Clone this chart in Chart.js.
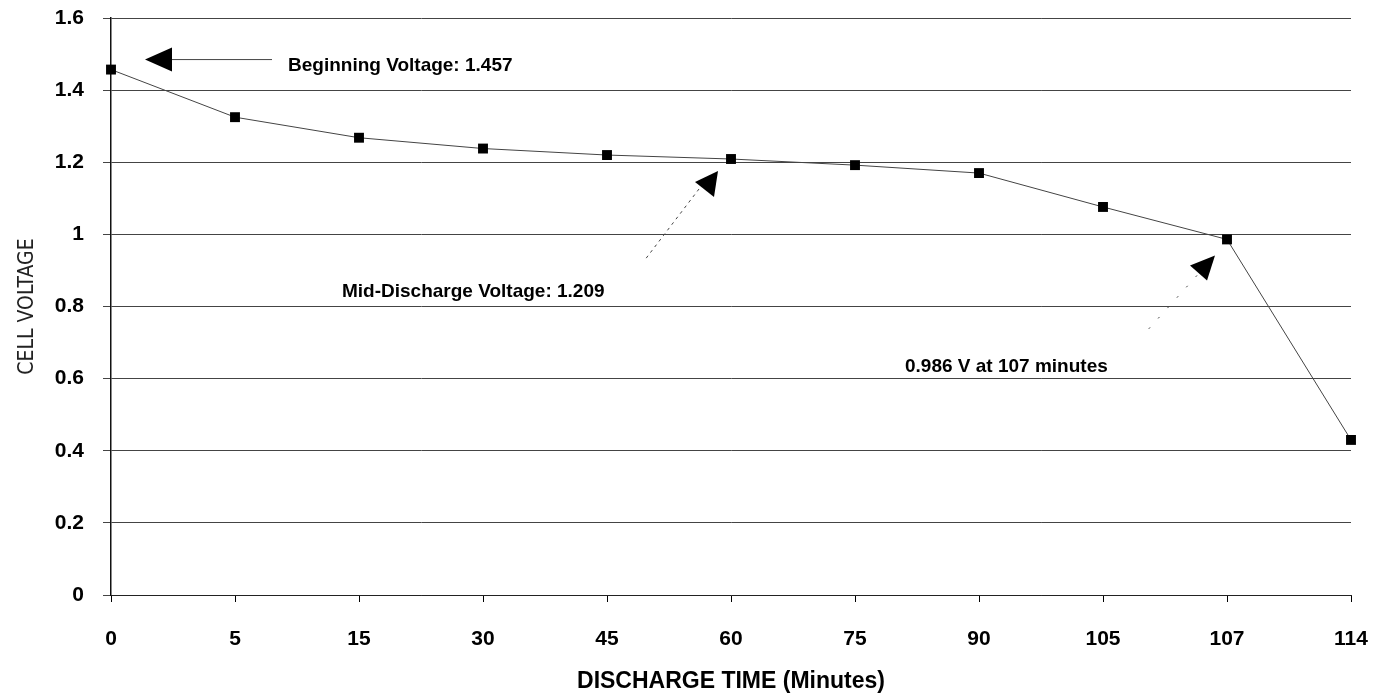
<!DOCTYPE html>
<html>
<head>
<meta charset="utf-8">
<script src="https://cdn.jsdelivr.net/npm/chart.js@4"></script>
<style>
  html, body { margin: 0; padding: 0; background: #fff; }
  #wrap { width: 1383px; height: 698px; }
</style>
</head>
<body>
<div id="wrap"><canvas id="chart"></canvas></div>
<script>
const minutes = ['0', '5', '15', '30', '45', '60', '75', '90', '105', '107', '114'];
const cellVoltage = [1.457, 1.325, 1.268, 1.238, 1.220, 1.209, 1.192, 1.170, 1.076, 0.986, 0.430];
const voltageTicks = [0, 0.2, 0.4, 0.6, 0.8, 1, 1.2, 1.4, 1.6];
const notes = [
  { text: 'Beginning Voltage: 1.457', at: 0 },
  { text: 'Mid-Discharge Voltage: 1.209', at: 5 },
  { text: '0.986 V at 107 minutes', at: 9 },
];

// arrows + labels drawn next to the data points they refer to
const notesPlugin = {
  id: 'notes',
  afterDatasetsDraw(chart) {
    const ctx = chart.ctx;
    const x = chart.scales.x, y = chart.scales.y;
    const px = i => x.getPixelForValue(i);
    const py = i => y.getPixelForValue(cellVoltage[i]);

    const tri = (pts) => {
      ctx.beginPath();
      ctx.moveTo(pts[0][0], pts[0][1]);
      ctx.lineTo(pts[1][0], pts[1][1]);
      ctx.lineTo(pts[2][0], pts[2][1]);
      ctx.closePath();
      ctx.fill();
    };
    const line = (x1, y1, x2, y2, dash) => {
      ctx.save();
      ctx.setLineDash(dash);
      ctx.beginPath();
      ctx.moveTo(x1, y1);
      ctx.lineTo(x2, y2);
      ctx.stroke();
      ctx.restore();
    };

    ctx.save();
    ctx.fillStyle = '#000';
    ctx.strokeStyle = '#444';
    ctx.lineWidth = 1;
    ctx.font = 'bold 19px "Liberation Sans", Arial, sans-serif';
    ctx.textBaseline = 'middle';
    ctx.textAlign = 'left';

    // beginning voltage
    let bx = px(notes[0].at) + 34, by = py(notes[0].at) - 10;
    tri([[bx, by], [bx + 27, by - 12], [bx + 27, by + 12]]);
    line(bx + 27, by, bx + 127, by, []);
    ctx.fillText(notes[0].text, bx + 143, by + 6);

    // mid-discharge voltage
    let mx = px(notes[1].at) - 13, my = py(notes[1].at) + 12;
    tri([[mx, my], [mx - 23, my + 11], [mx - 4, my + 26]]);
    line(mx - 19, my + 18, mx - 74, my + 90, [3, 4]);
    ctx.fillText(notes[1].text, 342, my + 121);

    // 107 minutes
    let ex = px(notes[2].at) - 12, ey = py(notes[2].at) + 16;
    tri([[ex, ey], [ex - 25, ey + 10], [ex - 8, ey + 25]]);
    line(ex - 18, ey + 20, ex - 74, ey + 82, [2, 12]);
    ctx.fillText(notes[2].text, 905, ey + 111);
    ctx.restore();
  }
};

const tickFont = { family: '"Liberation Sans", Arial, sans-serif', size: 21, weight: 'bold' };

new Chart(document.getElementById('chart'), {
  type: 'line',
  data: {
    labels: minutes,
    datasets: [{
      data: cellVoltage,
      borderColor: '#444',
      borderWidth: 1,
      pointStyle: 'rect',
      pointRadius: 7,
      pointBackgroundColor: '#000',
      pointBorderColor: '#000',
      pointBorderWidth: 0,
      tension: 0,
    }],
  },
  options: {
    responsive: true,
    maintainAspectRatio: false,
    animation: false,
    layout: { padding: { top: 18, right: 32, left: 0, bottom: 0 } },
    plugins: {
      legend: { display: false },
      tooltip: { enabled: false },
    },
    scales: {
      x: {
        offset: false,
        afterFit: s => { s.height = 103; s.paddingLeft = 0; s.paddingRight = 0; },
        grid: {
          drawOnChartArea: false,
          drawTicks: true,
          tickLength: 7,
          color: '#000',
        },
        border: { color: '#222', width: 1, dash: [12, 3] },
        ticks: {
          color: '#000',
          padding: 25,
          font: tickFont,
          maxRotation: 0,
        },
        title: {
          display: true,
          text: 'DISCHARGE TIME (Minutes)',
          color: '#000',
          font: { family: '"Liberation Sans", Arial, sans-serif', size: 23, weight: 'bold' },
          padding: { top: 0, bottom: 3 },
        },
      },
      y: {
        min: 0,
        max: 1.6,
        afterFit: s => { s.width = 111; s.paddingTop = 0; s.paddingBottom = 0; },
        afterBuildTicks: s => { s.ticks = voltageTicks.map(v => ({ value: v })); },
        grid: {
          color: '#444',
          lineWidth: 1,
          tickLength: 8,
        },
        border: { color: '#111', width: 1.5, dash: [] },
        ticks: {
          color: '#000',
          padding: 19,
          font: tickFont,
          callback: v => String(Math.round(v * 10) / 10),
        },
        title: {
          display: true,
          text: 'CELL VOLTAGE',
          color: '#222',
          font: { family: '"Liberation Sans Narrow", "DejaVu Sans Condensed", sans-serif', size: 21, weight: 'normal' },
          padding: { top: 15, bottom: 0 },
        },
      },
    },
  },
  plugins: [notesPlugin],
});
</script>
</body>
</html>
